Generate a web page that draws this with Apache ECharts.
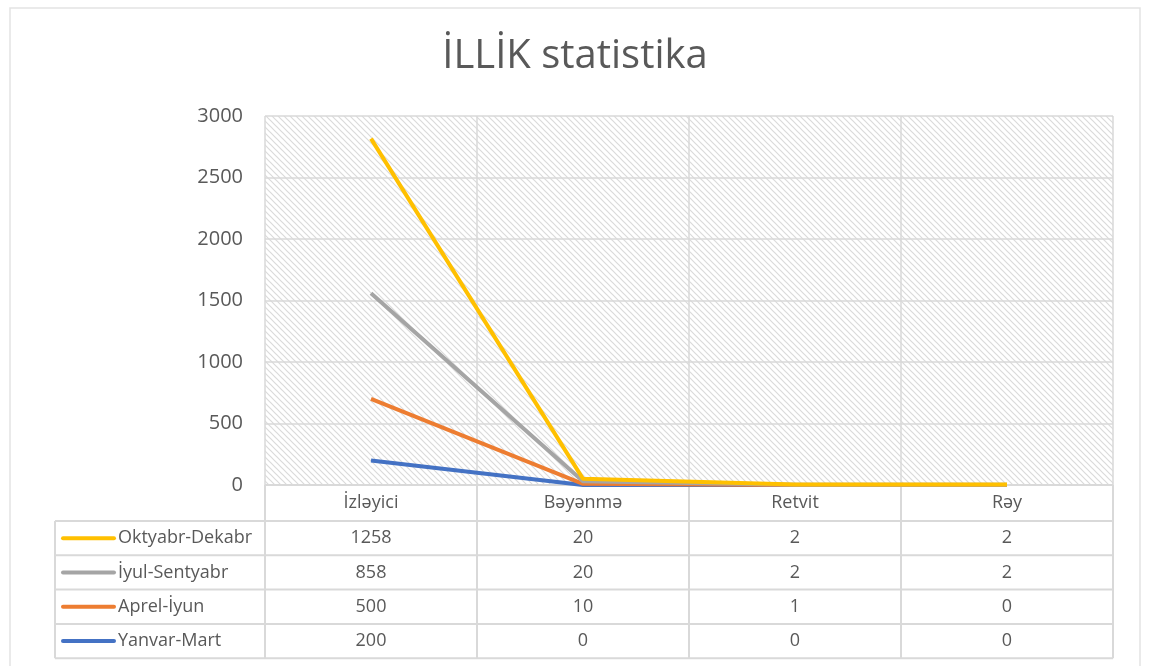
<!DOCTYPE html>
<html>
<head>
<meta charset="utf-8">
<script src="https://cdn.jsdelivr.net/npm/echarts@6/dist/echarts.min.js"></script>
<style>
  html, body { margin: 0; padding: 0; background: #fff; }
  #main { width: 1150px; height: 666px; }
</style>
</head>
<body>
<div id="main"></div>
<script>
// categories and series values (raw, not stacked)
const categories = ['İzləyici', 'Bəyənmə', 'Retvit', 'Rəy'];
const seriesNames = ['Yanvar-Mart', 'Aprel-İyun', 'İyul-Sentyabr', 'Oktyabr-Dekabr'];
const yanvarMart = [200, 0, 0, 0];
const aprelIyun = [500, 10, 1, 0];
const iyulSentyabr = [858, 20, 2, 2];
const oktyabrDekabr = [1258, 20, 2, 2];
const seriesColors = ['#4472C4', '#ED7D31', '#A5A5A5', '#FFC000'];

const allValues = [yanvarMart, aprelIyun, iyulSentyabr, oktyabrDekabr];

const font = 'Open Sans, Noto Sans, sans-serif';
const textColor = '#595959';
const gridColor = '#D9D9D9';

// layout
const plotLeft = 265, plotRight = 1113, plotTop = 116, plotBottom = 485;
const headerH = 36, rowH = 34.3, tableLeft = 55;

// hatch pattern
const pc = document.createElement('canvas');
pc.width = 6; pc.height = 6;
const pctx = pc.getContext('2d');
pctx.fillStyle = '#fff';
pctx.fillRect(0, 0, 6, 6);
pctx.strokeStyle = '#DADADA';
pctx.lineWidth = 1.2;
pctx.beginPath();
pctx.moveTo(-1, -1); pctx.lineTo(7, 7);
pctx.moveTo(-1, 5); pctx.lineTo(1, 7);
pctx.moveTo(5, -1); pctx.lineTo(7, 1);
pctx.stroke();

const chart = echarts.init(document.getElementById('main'));

const series = seriesNames.map(function (name, i) {
  return {
    name: name,
    type: 'line',
    stack: 'total',
    data: allValues[i],
    symbol: 'none',
    lineStyle: { width: 4, color: seriesColors[i] },
    itemStyle: { color: seriesColors[i] },
    z: 2 + i
  };
});

chart.setOption({
  animation: false,
  title: {
    text: 'İLLİK statistika',
    left: 'center',
    top: 32,
    textStyle: { fontFamily: font, fontSize: 40, fontWeight: 'normal', color: textColor }
  },
  grid: {
    left: plotLeft,
    right: 1150 - plotRight,
    top: plotTop,
    bottom: 666 - plotBottom,
    show: true,
    borderWidth: 0,
    backgroundColor: { image: pc, repeat: 'repeat' }
  },
  xAxis: {
    type: 'category',
    data: categories,
    boundaryGap: true,
    axisLine: { show: false },
    axisTick: { show: false },
    axisLabel: { show: false },
    splitLine: { show: true, lineStyle: { color: gridColor, width: 1.5 } }
  },
  yAxis: {
    type: 'value',
    min: 0,
    max: 3000,
    interval: 500,
    axisLine: { show: false },
    axisTick: { show: false },
    axisLabel: { fontFamily: font, fontSize: 20, color: textColor, margin: 22, formatter: function (v) { return String(v); } },
    splitLine: { lineStyle: { color: gridColor, width: 1.5 } }
  },
  series: series
});

// data table below the plot
const graphic = [];
const lineStyle = { stroke: gridColor, lineWidth: 2 };
const tableBottom = plotBottom + headerH + rowH * 4;
const fs = 18;

// outer chart border
graphic.push({ type: 'rect', shape: { x: 10, y: 8, width: 1130, height: 700 }, style: { fill: null, stroke: '#E3E3E3', lineWidth: 1.5 }, silent: true });

// horizontal lines
graphic.push({ type: 'line', shape: { x1: plotLeft, y1: plotBottom, x2: plotRight, y2: plotBottom }, style: lineStyle });
for (let r = 0; r <= 4; r++) {
  const y = plotBottom + headerH + rowH * r;
  graphic.push({ type: 'line', shape: { x1: tableLeft, y1: y, x2: plotRight, y2: y }, style: lineStyle });
}
// vertical lines
graphic.push({ type: 'line', shape: { x1: tableLeft, y1: plotBottom + headerH, x2: tableLeft, y2: tableBottom }, style: lineStyle });
const colW = (plotRight - plotLeft) / categories.length;
for (let c = 0; c <= categories.length; c++) {
  const x = plotLeft + colW * c;
  graphic.push({ type: 'line', shape: { x1: x, y1: plotBottom, x2: x, y2: tableBottom }, style: lineStyle });
}

// header labels
categories.forEach(function (cat, c) {
  const x = chart.convertToPixel({ xAxisIndex: 0 }, cat);
  graphic.push({
    type: 'text', x: x, y: plotBottom + headerH / 2,
    style: { text: cat, fontFamily: font, fontSize: fs, fill: textColor, align: 'center', verticalAlign: 'middle' }
  });
});

// rows: top row is the last series
for (let r = 0; r < 4; r++) {
  const si = 3 - r;
  const yc = plotBottom + headerH + rowH * r + rowH / 2;
  graphic.push({ type: 'line', shape: { x1: 63, y1: yc, x2: 114, y2: yc }, style: { stroke: seriesColors[si], lineWidth: 4, lineCap: 'round' } });
  graphic.push({
    type: 'text', x: 118, y: yc,
    style: { text: seriesNames[si], fontFamily: font, fontSize: fs, fill: textColor, align: 'left', verticalAlign: 'middle' }
  });
  categories.forEach(function (cat, c) {
    const x = chart.convertToPixel({ xAxisIndex: 0 }, cat);
    graphic.push({
      type: 'text', x: x, y: yc,
      style: { text: String(allValues[si][c]), fontFamily: font, fontSize: fs, fill: textColor, align: 'center', verticalAlign: 'middle' }
    });
  });
}

chart.setOption({ graphic: graphic });
</script>
</body>
</html>
